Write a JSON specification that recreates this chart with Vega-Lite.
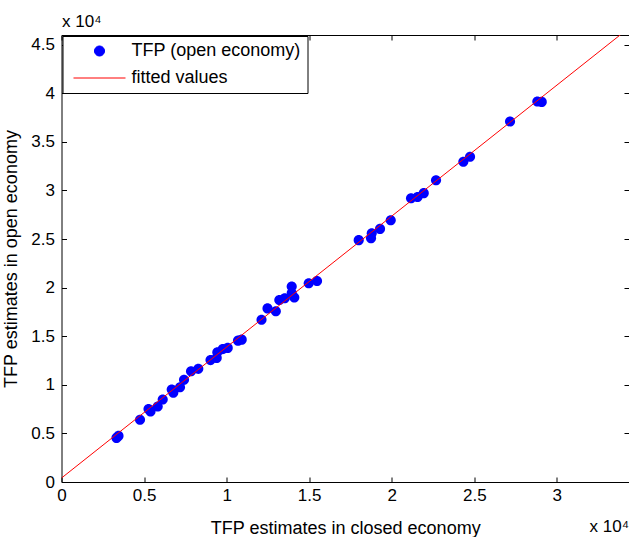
{
  "$schema": "https://vega.github.io/schema/vega-lite/v6.json",
  "width": 567.5,
  "height": 447,
  "autosize": {"type": "none"},
  "padding": {"left": 61.5, "top": 35, "right": 0, "bottom": 55},
  "background": "white",
  "config": {
    "view": {"stroke": null},
    "font": "Liberation Sans",
    "axis": {
      "grid": false,
      "domainColor": "black",
      "domainWidth": 1,
      "tickColor": "black",
      "tickWidth": 1,
      "tickSize": -5,
      "labelFlush": false,
      "labelColor": "black",
      "titleColor": "black",
      "labelFont": "Liberation Sans",
      "titleFont": "Liberation Sans",
      "labelFontSize": 17,
      "titleFontSize": 18,
      "titleFontWeight": "normal"
    },
    "legend": {
      "title": null,
      "orient": "top-left",
      "offset": 1,
      "strokeColor": "black",
      "fillColor": "white",
      "padding": 6,
      "rowPadding": 9,
      "symbolSize": 289,
      "symbolOffset": 22,
      "symbolStrokeWidth": 1,
      "labelFontSize": 18,
      "labelFont": "Liberation Sans",
      "labelColor": "black",
      "labelOffset": 23,
      "labelLimit": 400
    }
  },
  "title": {
    "text": "x 10⁴",
    "orient": "bottom",
    "anchor": "end",
    "frame": "group",
    "offset": -18,
    "fontSize": 17,
    "fontWeight": "normal",
    "color": "black",
    "font": "Liberation Sans"
  },
  "datasets": {
    "tfp": [
      {"closed": 3331, "open": 4538, "series": "TFP (open economy)"},
      {"closed": 3452, "open": 4743, "series": "TFP (open economy)"},
      {"closed": 4755, "open": 6407, "series": "TFP (open economy)"},
      {"closed": 5270, "open": 7515, "series": "TFP (open economy)"},
      {"closed": 5391, "open": 7259, "series": "TFP (open economy)"},
      {"closed": 5827, "open": 7772, "series": "TFP (open economy)"},
      {"closed": 6130, "open": 8491, "series": "TFP (open economy)"},
      {"closed": 6675, "open": 9517, "series": "TFP (open economy)"},
      {"closed": 6772, "open": 9179, "series": "TFP (open economy)"},
      {"closed": 7177, "open": 9754, "series": "TFP (open economy)"},
      {"closed": 7420, "open": 10513, "series": "TFP (open economy)"},
      {"closed": 7844, "open": 11396, "series": "TFP (open economy)"},
      {"closed": 8286, "open": 11643, "series": "TFP (open economy)"},
      {"closed": 9025, "open": 12546, "series": "TFP (open economy)"},
      {"closed": 9400, "open": 12772, "series": "TFP (open economy)"},
      {"closed": 9437, "open": 13347, "series": "TFP (open economy)"},
      {"closed": 9764, "open": 13676, "series": "TFP (open economy)"},
      {"closed": 10067, "open": 13799, "series": "TFP (open economy)"},
      {"closed": 10690, "open": 14548, "series": "TFP (open economy)"},
      {"closed": 10915, "open": 14651, "series": "TFP (open economy)"},
      {"closed": 12114, "open": 16704, "series": "TFP (open economy)"},
      {"closed": 12477, "open": 17864, "series": "TFP (open economy)"},
      {"closed": 12980, "open": 17577, "series": "TFP (open economy)"},
      {"closed": 13192, "open": 18727, "series": "TFP (open economy)"},
      {"closed": 13519, "open": 18912, "series": "TFP (open economy)"},
      {"closed": 13943, "open": 20123, "series": "TFP (open economy)"},
      {"closed": 13943, "open": 19446, "series": "TFP (open economy)"},
      {"closed": 14100, "open": 18994, "series": "TFP (open economy)"},
      {"closed": 14973, "open": 20452, "series": "TFP (open economy)"},
      {"closed": 15476, "open": 20678, "series": "TFP (open economy)"},
      {"closed": 18001, "open": 24887, "series": "TFP (open economy)"},
      {"closed": 18746, "open": 25092, "series": "TFP (open economy)"},
      {"closed": 18789, "open": 25606, "series": "TFP (open economy)"},
      {"closed": 19291, "open": 26047, "series": "TFP (open economy)"},
      {"closed": 19939, "open": 26940, "series": "TFP (open economy)"},
      {"closed": 21169, "open": 29199, "series": "TFP (open economy)"},
      {"closed": 21563, "open": 29333, "series": "TFP (open economy)"},
      {"closed": 21938, "open": 29723, "series": "TFP (open economy)"},
      {"closed": 22683, "open": 31047, "series": "TFP (open economy)"},
      {"closed": 24337, "open": 32957, "series": "TFP (open economy)"},
      {"closed": 24743, "open": 33470, "series": "TFP (open economy)"},
      {"closed": 27165, "open": 37105, "series": "TFP (open economy)"},
      {"closed": 28819, "open": 39158, "series": "TFP (open economy)"},
      {"closed": 29085, "open": 39117, "series": "TFP (open economy)"}
    ],
    "fit": [
      {"closed": 0, "fitted": 410, "series": "fitted values"},
      {"closed": 34370, "fitted": 46727, "series": "fitted values"}
    ]
  },
  "layer": [
    {
      "data": {"name": "tfp"},
      "mark": {"type": "point", "filled": true, "size": 289, "opacity": 1},
      "encoding": {
        "x": {
          "field": "closed", "type": "quantitative",
          "scale": {"domain": [0, 34370], "nice": false, "zero": false},
          "axis": {
            "orient": "bottom",
            "values": [0, 5000, 10000, 15000, 20000, 25000, 30000],
            "labelExpr": "format(datum.value / 10000, '~g')",
            "labelPadding": 10,
            "title": "TFP estimates in closed economy",
            "titlePadding": 16
          }
        },
        "y": {
          "field": "open", "type": "quantitative",
          "scale": {"domain": [0, 46000], "nice": false, "zero": false},
          "axis": {
            "orient": "left",
            "values": [0, 5000, 10000, 15000, 20000, 25000, 30000, 35000, 40000, 45000],
            "labelExpr": "format(datum.value / 10000, '~g')",
            "labelPadding": 12,
            "title": "TFP estimates in open economy",
            "titlePadding": 10
          }
        },
        "color": {
          "field": "series", "type": "nominal",
          "scale": {"domain": ["TFP (open economy)", "fitted values"], "range": ["#0000ff", "#ff0000"]}
        },
        "shape": {
          "field": "series", "type": "nominal",
          "scale": {"domain": ["TFP (open economy)", "fitted values"], "range": ["M0.594,0A0.594,0.594,0,1,1,-0.594,0A0.594,0.594,0,1,1,0.594,0Z", "M-3.06,0H3.06"]}
        }
      }
    },
    {
      "data": {"name": "fit"},
      "mark": {"type": "line", "clip": true, "strokeWidth": 1},
      "encoding": {
        "x": {
          "field": "closed", "type": "quantitative",
          "axis": {
            "orient": "top",
            "values": [0, 5000, 10000, 15000, 20000, 25000, 30000],
            "labels": false,
            "title": "x 10⁴",
            "titleAnchor": "start",
            "titleAlign": "left",
            "titleBaseline": "alphabetic",
            "titleFontSize": 17,
            "titlePadding": 8
          }
        },
        "y": {
          "field": "fitted", "type": "quantitative",
          "axis": {
            "orient": "right",
            "values": [0, 5000, 10000, 15000, 20000, 25000, 30000, 35000, 40000, 45000],
            "labels": false,
            "title": null
          }
        },
        "color": {"field": "series", "type": "nominal"}
      }
    }
  ],
  "resolve": {"axis": {"x": "independent", "y": "independent"}}
}
